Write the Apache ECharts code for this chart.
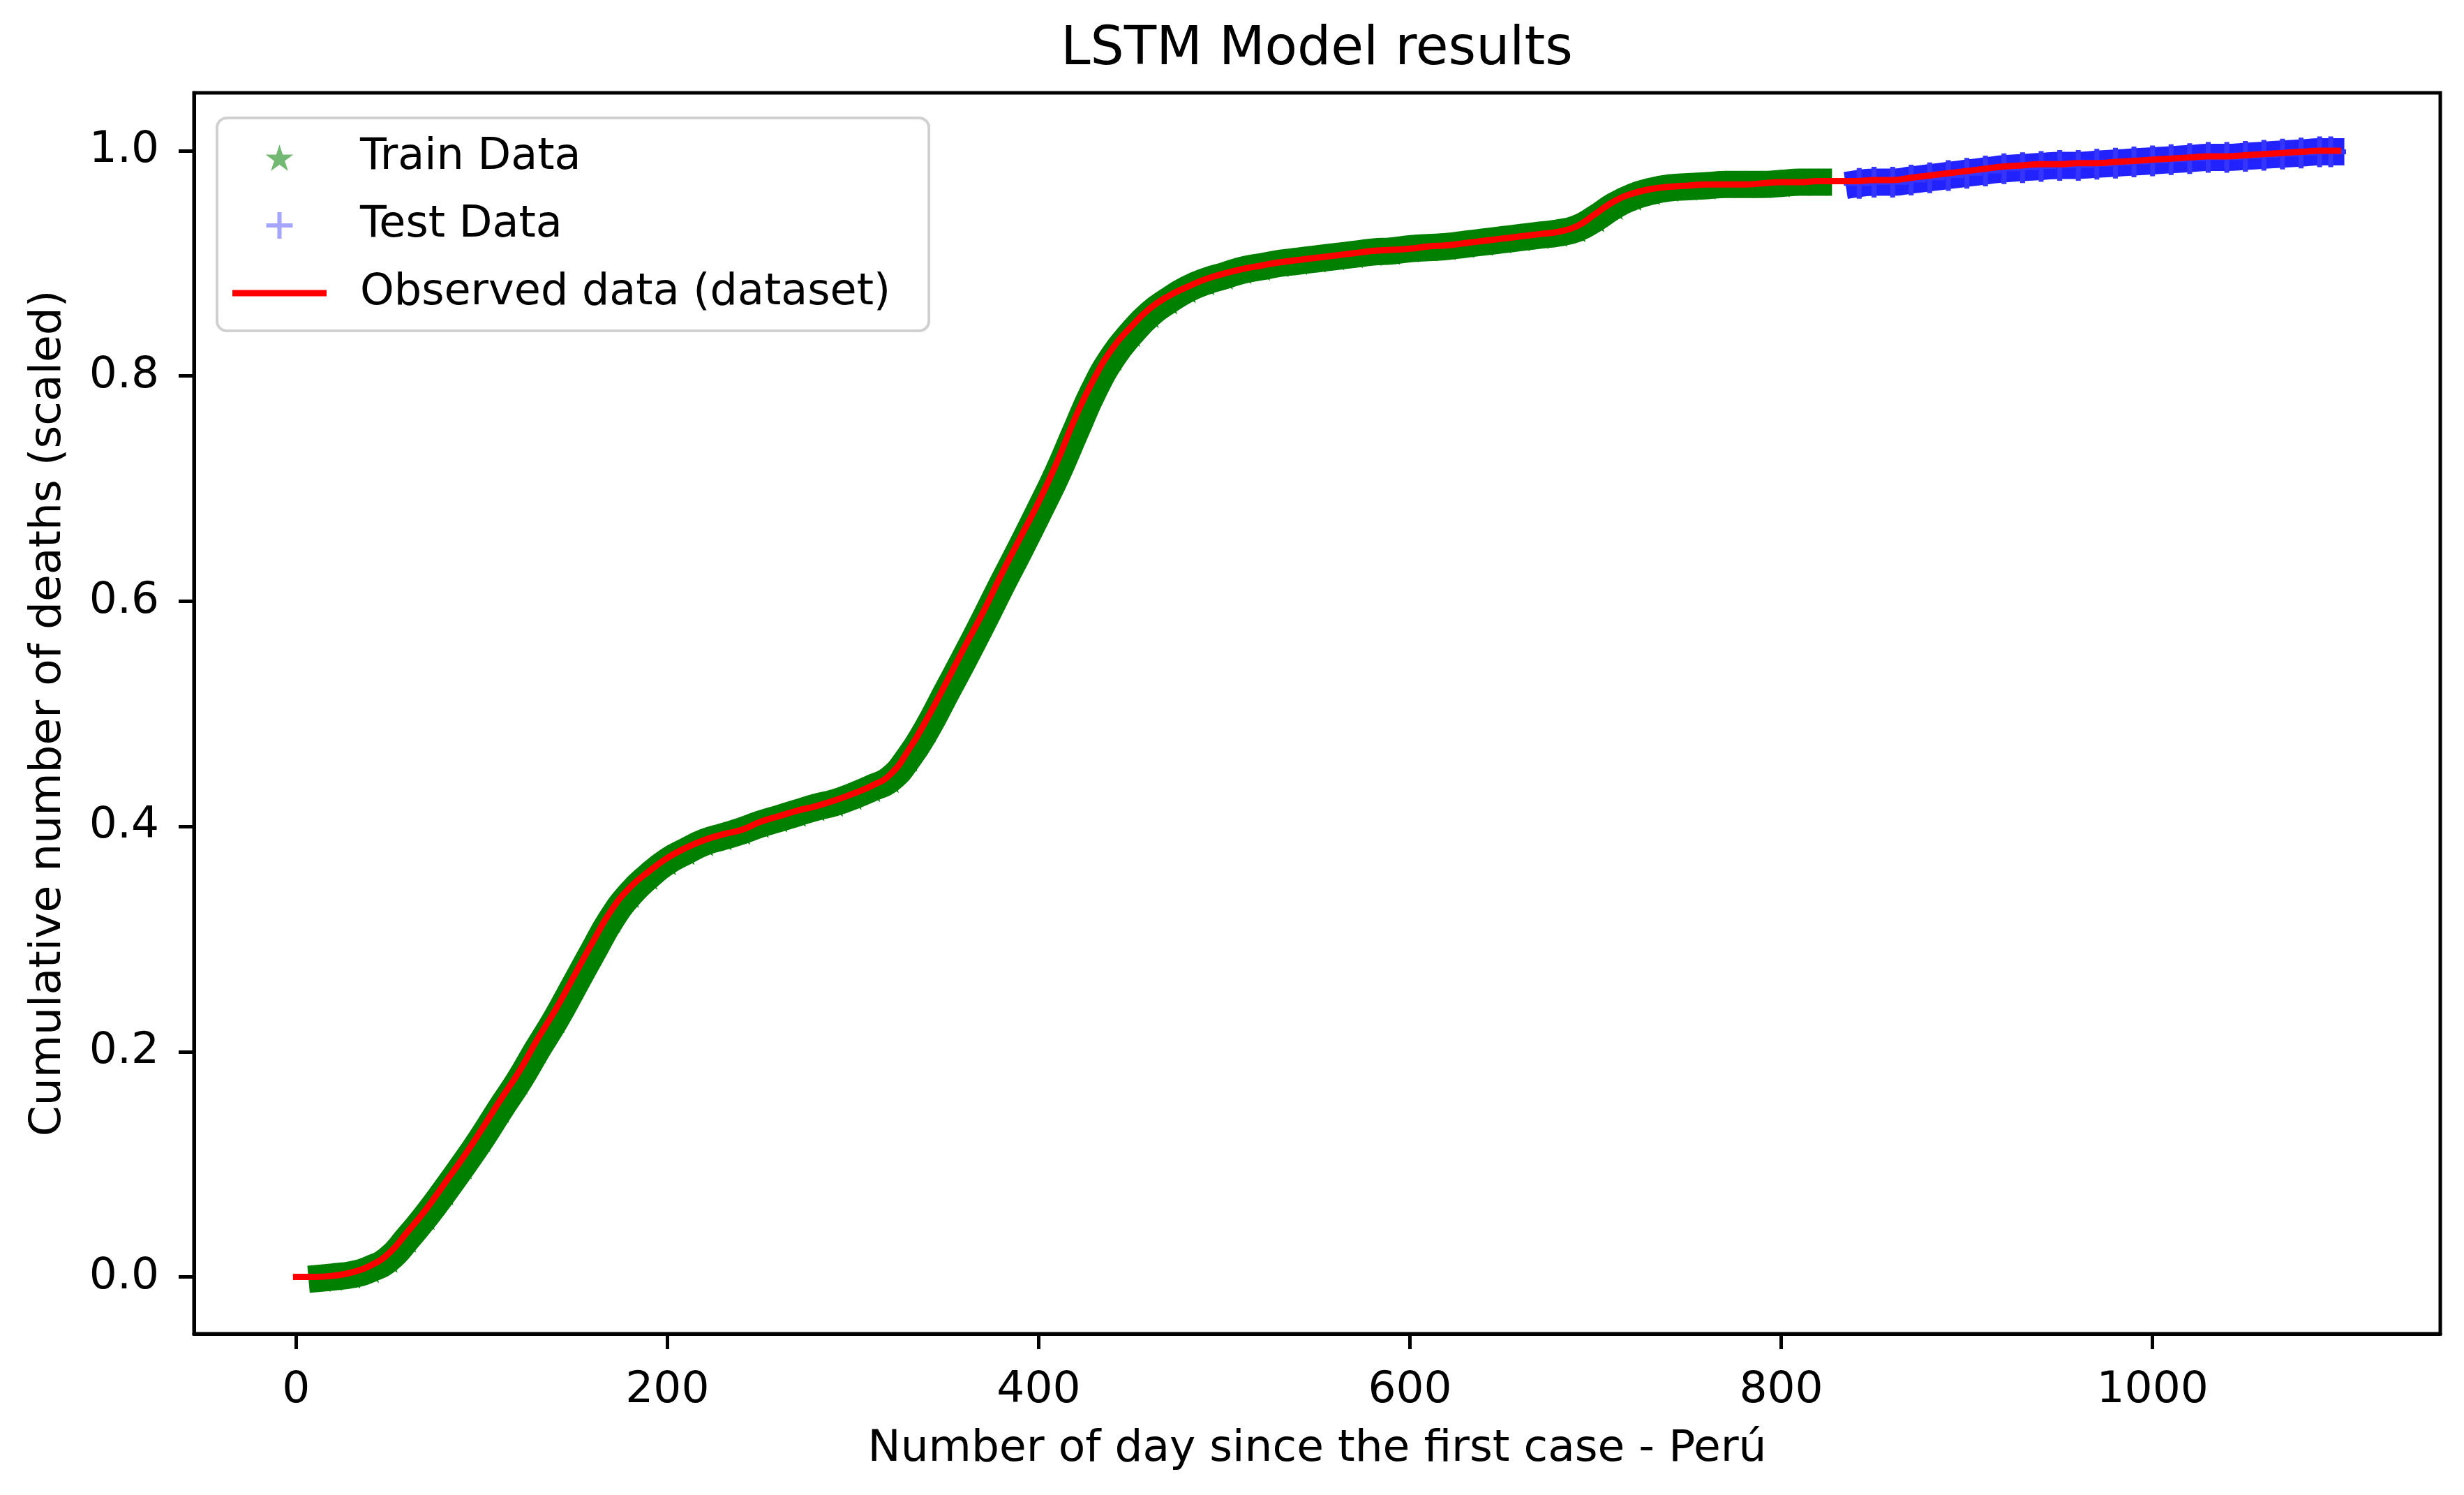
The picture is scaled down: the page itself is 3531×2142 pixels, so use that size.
<!DOCTYPE html>
<html><head><meta charset="utf-8">
<script src="https://cdn.jsdelivr.net/npm/echarts@6/dist/echarts.min.js"></script>
<style>html,body{margin:0;padding:0;background:#fff}#c{width:3531px;height:2142px}</style>
</head><body><div id="c"></div><script>
// ---- data ----
const xTickValues = [0, 200, 400, 600, 800, 1000];
const yTickValues = [0.0, 0.2, 0.4, 0.6, 0.8, 1.0];

const obsDays = [0,10,20,30,40,50,60,70,80,90,100,110,120,130,140,150,160,170,180,190,200,
  210,220,230,240,250,260,270,280,290,300,310,320,330,340,350,360,370,380,390,400,
  410,420,430,440,450,460,470,480,490,500,510,520,530,540,550,560,570,580,590,600,
  610,620,630,640,650,660,670,680,690,700,710,720,730,740,750,760,770,780,790,800,
  810,820,830,840,850,860,870,880,890,900,910,920,930,940,950,960,970,980,990,1000,
  1010,1020,1030,1040,1050,1060,1070,1080,1090,1100];
const obsVals = [0.000,0.000,0.001,0.004,0.010,0.021,0.040,0.060,0.083,0.106,0.131,
  0.157,0.182,0.211,0.238,0.268,0.298,0.326,0.346,0.360,0.372,
  0.381,0.388,0.393,0.397,0.404,0.409,0.414,0.418,0.423,0.429,
  0.436,0.446,0.468,0.496,0.527,0.559,0.590,0.624,0.656,0.688,
  0.724,0.764,0.798,0.825,0.844,0.860,0.871,0.879,0.886,0.891,
  0.895,0.898,0.901,0.903,0.905,0.907,0.909,0.911,0.912,0.913,
  0.915,0.916,0.918,0.920,0.922,0.924,0.926,0.928,0.933,0.944,
  0.955,0.962,0.966,0.968,0.969,0.970,0.970,0.970,0.971,0.972,
  0.972,0.973,0.973,0.973,0.974,0.974,0.976,0.978,0.980,0.982,
  0.984,0.986,0.987,0.988,0.988,0.989,0.989,0.990,0.991,0.992,
  0.993,0.994,0.995,0.995,0.996,0.997,0.998,0.999,1.000,1.000];

const trainDays = [14,20,30,40,50,60,70,80,90,100,110,120,130,140,150,160,170,180,190,200,
  210,220,230,240,250,260,270,280,290,300,310,320,330,340,350,360,370,380,390,400,
  410,420,430,440,450,460,470,480,490,500,510,520,530,540,550,560,570,580,590,600,
  610,620,630,640,650,660,670,680,690,700,710,720,730,740,750,760,770,780,790,800,
  810,820];
const trainVals = [-0.001,0.000,0.002,0.007,0.016,0.034,0.054,0.076,0.099,0.123,
  0.149,0.174,0.202,0.229,0.259,0.289,0.318,0.340,0.356,0.369,
  0.378,0.386,0.391,0.396,0.402,0.407,0.412,0.417,0.421,0.427,
  0.434,0.442,0.461,0.487,0.518,0.549,0.581,0.614,0.646,0.679,
  0.713,0.751,0.788,0.817,0.838,0.855,0.867,0.877,0.884,0.889,
  0.894,0.897,0.900,0.902,0.904,0.906,0.908,0.910,0.911,0.913,
  0.914,0.915,0.917,0.919,0.921,0.923,0.925,0.927,0.931,0.940,
  0.951,0.959,0.964,0.967,0.968,0.969,0.970,0.970,0.970,0.971,
  0.972,0.972];

const testDays = [842,850,860,870,880,890,900,910,920,930,940,950,960,970,980,990,1000,
  1010,1020,1030,1040,1050,1060,1070,1080,1090,1096];
const testVals = [0.971,0.972,0.972,0.974,0.976,0.978,0.980,0.982,0.984,0.985,0.986,
  0.987,0.987,0.988,0.989,0.990,0.991,0.992,0.993,0.994,0.994,0.995,0.996,0.997,
  0.998,0.999,0.999];

const seriesNames = ['Train Data', 'Test Data', 'Observed data (dataset)'];

// ---- chart ----
const FONT = 'DejaVu Sans';
const starPath = 'path://M50,0 L61.23,34.55 L97.55,34.55 L68.16,55.9 L79.39,90.45 L50,69.1 L20.61,90.45 L31.84,55.9 L2.45,34.55 L38.77,34.55 Z';
const plusPath = 'path://M42,0 H58 V42 H100 V58 H58 V100 H42 V58 H0 V42 H42 Z';
const linePath = 'path://M0,0 H135 V9 H0 Z';

const pairs = (xs, ys) => xs.map((x, i) => [x, ys[i]]);

const chart = echarts.init(document.getElementById('c'), null, {renderer: 'canvas'});
chart.setOption({
  animation: false,
  backgroundColor: '#ffffff',
  textStyle: {fontFamily: FONT},
  graphic: [{
    type: 'text', x: 1887, y: 72, z: 10,
    style: {text: 'LSTM Model results', font: '76px "DejaVu Sans"', fill: '#000',
            textAlign: 'center', textVerticalAlign: 'middle'}
  }],
  grid: {left: 278, right: 34, top: 133, bottom: 231, show: true,
         borderColor: '#000', borderWidth: 5, backgroundColor: 'transparent'},
  legend: {
    orient: 'vertical', left: 311, top: 169,
    padding: [26, 55, 23, 22],
    itemWidth: 135, itemHeight: 38, itemGap: 35,
    symbolKeepAspect: true,
    selectedMode: false,
    backgroundColor: 'rgba(255,255,255,0.85)',
    borderColor: '#d0d0d0', borderWidth: 4, borderRadius: 14,
    textStyle: {fontFamily: FONT, fontSize: 62, color: '#000', padding: [0, 0, 0, 43]},
    data: [
      {name: seriesNames[0], icon: starPath, itemStyle: {color: 'rgba(0,128,0,0.55)'}},
      {name: seriesNames[1], icon: plusPath, itemStyle: {color: 'rgba(0,0,255,0.35)'}},
      {name: seriesNames[2], icon: linePath, itemStyle: {color: '#ff0000'}}
    ]
  },
  xAxis: {
    type: 'value', min: -55, max: 1155,
    name: 'Number of day since the first case - Perú',
    nameLocation: 'middle', nameGap: 134,
    nameTextStyle: {fontFamily: FONT, fontSize: 63, color: '#000'},
    splitLine: {show: false},
    axisLine: {show: true, onZero: false, lineStyle: {color: '#000', width: 5}},
    axisTick: {show: true, length: 22, lineStyle: {color: '#000', width: 5}, customValues: xTickValues},
    axisLabel: {fontFamily: FONT, fontSize: 63, color: '#000', margin: 50, customValues: xTickValues,
                formatter: v => String(v)}
  },
  yAxis: {
    type: 'value', min: -0.0505, max: 1.0514,
    name: 'Cumulative number of deaths (scaled)',
    nameLocation: 'middle', nameGap: 177, nameRotate: 90,
    nameTextStyle: {fontFamily: FONT, fontSize: 63, color: '#000'},
    splitLine: {show: false},
    axisLine: {show: true, onZero: false, lineStyle: {color: '#000', width: 5}},
    axisTick: {show: true, length: 22, lineStyle: {color: '#000', width: 5}, customValues: yTickValues},
    axisLabel: {fontFamily: FONT, fontSize: 63, color: '#000', margin: 50, customValues: yTickValues,
                formatter: v => Number(v).toFixed(1)}
  },
  series: [
    {
      name: seriesNames[0], type: 'line', data: pairs(trainDays, trainVals),
      smooth: 0.5,
      symbol: starPath, symbolSize: 40, showSymbol: true, showAllSymbol: true,
      itemStyle: {color: '#008000'},
      lineStyle: {color: '#008000', width: 39, cap: 'square', join: 'round'},
      z: 2, silent: true
    },
    {
      name: seriesNames[1], type: 'line', data: pairs(testDays, testVals),
      smooth: 0.5,
      symbol: plusPath, symbolSize: 44, showSymbol: true, showAllSymbol: true,
      itemStyle: {color: '#3535ff'},
      lineStyle: {color: '#2222ff', width: 39, cap: 'square', join: 'round'},
      z: 3, silent: true
    },
    {
      name: seriesNames[2], type: 'line', data: pairs(obsDays, obsVals),
      smooth: 0.5,
      symbol: 'none', showSymbol: false,
      itemStyle: {color: '#ff0000'},
      lineStyle: {color: '#ff0000', width: 9, cap: 'square', join: 'round'},
      z: 4, silent: true
    }
  ]
});
</script></body></html>
